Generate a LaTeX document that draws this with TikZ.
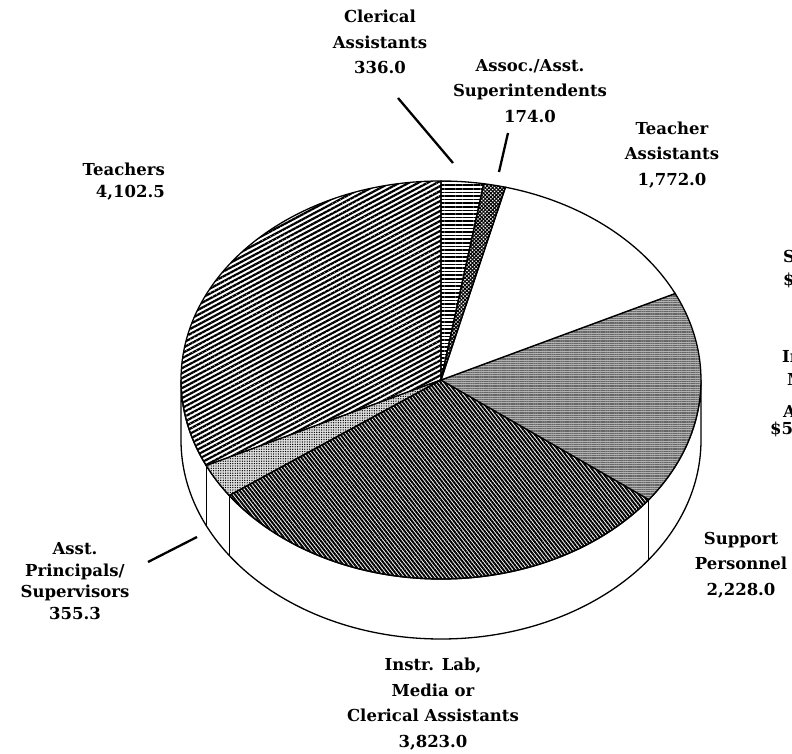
\documentclass[tikz,border=0pt]{standalone}
\usepackage{fontspec}
\setmainfont{DejaVu Serif}
\usetikzlibrary{patterns.meta}

\tikzset{
  lbl/.style={font=\fontsize{16.5}{25.5}\selectfont\bfseries, align=center, inner sep=0pt},
  lead/.style={line width=2.3pt},
  rim/.style={line width=1.3pt},
  teachfill/.style={pattern={Lines[angle=28, distance=4.4pt, line width=2.2pt]}},
  clerfill/.style={pattern={Lines[angle=0, distance=3.6pt, line width=1.7pt]}},
  assocfill/.style={preaction={pattern={Lines[angle=45, distance=2.6pt, line width=1.1pt]}},
                    pattern={Lines[angle=-45, distance=2.6pt, line width=1.1pt]}},
  tafill/.style={fill=white},
  suppfill/.style={preaction={fill=black!30}, pattern={Lines[angle=0, distance=1.8pt, line width=.6pt]}, pattern color=black!60},
  instrfill/.style={pattern={Lines[angle=-52, distance=3pt, line width=1.95pt]}},
  apfill/.style={preaction={fill=black!12}, pattern={Dots[distance=2.4pt, radius=.7pt]}},
}

\begin{document}
\begin{tikzpicture}[x=1pt, y=1pt]
    \useasboundingbox (-441, -374) rectangle (351, 380);
    \begin{scope}[shift={(0, 0)}]
        % side of the pie
        \filldraw[rim, fill=white] (180:260 and 199) -- ++(0, -60)
            arc[start angle=180, end angle=360, x radius=260, y radius=199]
            -- (0:260 and 199) arc[start angle=360, end angle=180, x radius=260, y radius=199] -- cycle;
        \foreach \a in {205.47, 215.47, 323.07}
            \draw[rim] (\a:260 and 199) -- ++(0, -60);

        % top of the pie
        \foreach \a/\b/\s in {90/205.47/teachfill, 205.47/215.47/apfill, 215.47/323.07/instrfill,
                              323.07/385.77/suppfill, 385.77/435.65/tafill, 435.65/440.54/assocfill,
                              440.54/450/clerfill}
            \filldraw[\s, rim] (0, 0) -- (\a:260 and 199)
                arc[start angle=\a, end angle=\b, x radius=260, y radius=199] -- cycle;
    \end{scope}

    % labels
    \node[lbl] (clerlbl) at (-61, 338) {Clerical\\Assistants\\336.0};
    \node[lbl] (assoclbl) at (89, 289) {Assoc./Asst.\\Superintendents\\174.0};
    \node[lbl] (talbl) at (231, 225) {Teacher\\Assistants\\1,772.0};
    \node[lbl, align=right, anchor=east, font=\fontsize{16.5}{22}\selectfont\bfseries] (teachlbl) at (-276, 198) {Teachers\\4,102.5};
    \node[lbl, font=\fontsize{16.5}{21.5}\selectfont\bfseries] (aplbl) at (-366, -201) {Asst.\\Principals/\\Supervisors\\355.3};
    \node[lbl] (supplbl) at (300, -185) {Support\\Personnel\\2,228.0};
    \node[lbl] (instrlbl) at (-8, -324) {Instr. Lab,\\Media or\\Clerical Assistants\\3,823.0};

    % leader lines
    \coordinate (clerA) at (-43, 282); \coordinate (clerB) at (12, 217);
    \coordinate (assocA) at (67, 247); \coordinate (assocB) at (58, 208);
    \coordinate (apA) at (-293, -182); \coordinate (apB) at (-244, -157);
    \draw[lead] (clerA) -- (clerB);   % clerical
    \draw[lead] (assocA) -- (assocB); % assoc.
    \draw[lead] (apA) -- (apB);       % asst. principals

    % cut-off labels of the next chart
    \node[lbl, anchor=base west] (frA) at (342, 117) {S};
    \node[lbl, anchor=base west] (frB) at (342, 94) {\$};
    \node[lbl, anchor=base west] (frC) at (341, 17) {In};
    \node[lbl, anchor=base west] (frD) at (346, -6) {M};
    \node[lbl, anchor=base west] (frE) at (342, -38) {A};
    \node[lbl, anchor=base west] (frF) at (329, -55) {\$5};
\end{tikzpicture}
\end{document}
